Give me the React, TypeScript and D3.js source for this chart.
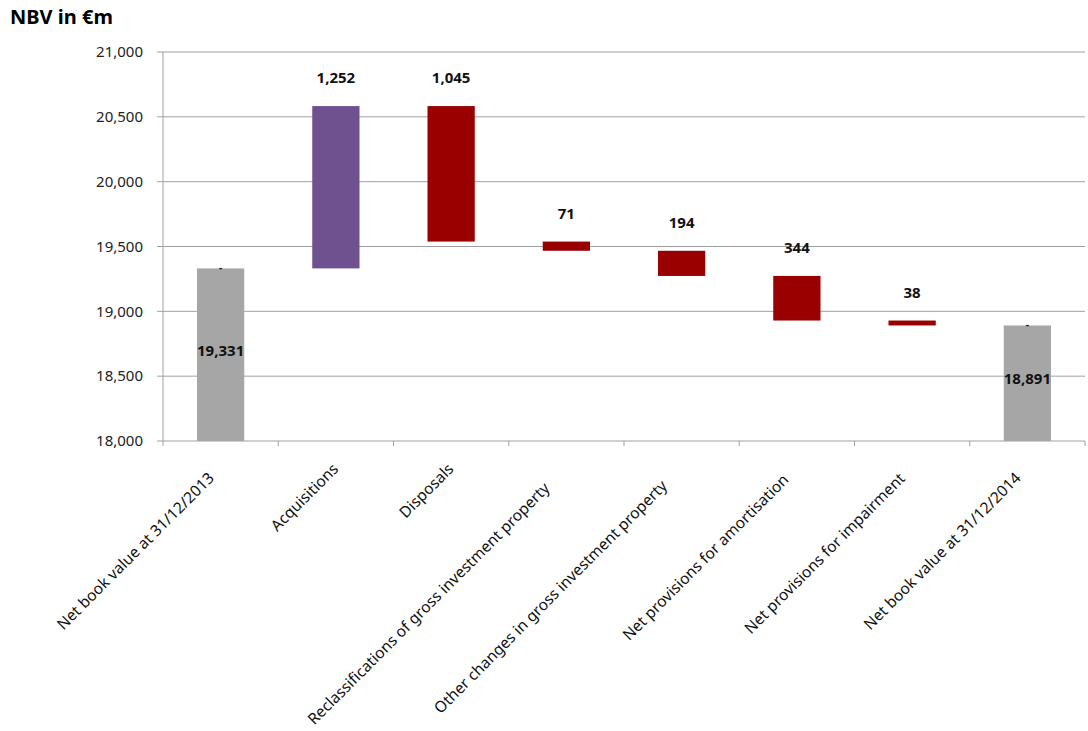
import React from "react";
import * as d3 from "d3";

const categories = [
  "Net book value at 31/12/2013",
  "Acquisitions",
  "Disposals",
  "Reclassifications of gross investment property",
  "Other changes in gross investment property",
  "Net provisions for amortisation",
  "Net provisions for impairment",
  "Net book value at 31/12/2014",
];
const kinds = ["total", "up", "down", "down", "down", "down", "down", "total"];
const values = [19331, 1252, 1045, 71, 194, 344, 38, 18891];
const yTicks = [18000, 18500, 19000, 19500, 20000, 20500, 21000];

const W = 1088;
const H = 731;
const M = { left: 163, right: 1085, top: 52, bottom: 441 };
const FONT = "'Noto Sans', 'Liberation Sans', Arial, sans-serif";
const COLORS: Record<string, string> = { total: "#A6A6A6", up: "#6F5190", down: "#990000" };

export default function App() {
  const x = d3.scaleBand<string>().domain(categories).range([M.left, M.right]).paddingInner(0).paddingOuter(0);
  const y = d3.scaleLinear().domain([18000, 21000]).range([M.bottom, M.top]);
  const bw = x.bandwidth() * 0.41;
  const fmt = d3.format(",");

  let running = 0;
  const bars = categories.map((c, i) => {
    const k = kinds[i];
    const v = values[i];
    let lo: number, hi: number;
    if (k === "total") {
      lo = 18000;
      hi = v;
      running = v;
    } else if (k === "up") {
      lo = running;
      hi = running + v;
      running = hi;
    } else {
      hi = running;
      lo = running - v;
      running = lo;
    }
    return { c, k, v, lo, hi };
  });

  return (
    <svg width={W} height={H} style={{ display: "block", position: "absolute", left: 0, top: 0 }} fontFamily={FONT}>
      <rect width={W} height={H} fill="#fff" />
      <text x={10} y={24} fontSize={20} fontWeight="bold" fill="#000">NBV in €m</text>
      {yTicks.map((t) => (
        <g key={t}>
          <line x1={M.left - 6} x2={M.right} y1={y(t)} y2={y(t)} stroke="#A0A0A0" strokeWidth={1} />
          <text x={143} y={y(t)} dy="0.35em" textAnchor="end" fontSize={15} fill="#222">{fmt(t)}</text>
        </g>
      ))}
      <line x1={M.left} x2={M.left} y1={M.top} y2={M.bottom} stroke="#A0A0A0" />
      {categories.map((c, i) => (
        <line key={"t" + i} x1={x(c)! + x.bandwidth()} x2={x(c)! + x.bandwidth()} y1={M.bottom} y2={M.bottom + 5} stroke="#A0A0A0" />
      ))}
      <line x1={M.left} x2={M.left} y1={M.bottom} y2={M.bottom + 5} stroke="#A0A0A0" />
      {bars.map((b, i) => {
        const cx = x(b.c)! + x.bandwidth() / 2;
        const y0 = y(b.hi);
        const y1 = y(b.lo);
        const shift = Math.max(0, b.c.length - 12) * 0.8 * Math.SQRT1_2;
        return (
          <g key={i}>
            <rect x={cx - bw / 2} y={y0} width={bw} height={y1 - y0} fill={COLORS[b.k]} />
            {b.k === "total" ? (
              <>
                <text x={cx} y={(y0 + y1) / 2 - 4} dy="0.35em" textAnchor="middle" fontSize={15} fontWeight="bold" fill="#111">{fmt(b.v)}</text>
                <text x={cx} y={y0 + 3} textAnchor="middle" fontSize={10} fontWeight="bold" fill="#111">-</text>
              </>
            ) : (
              <text x={cx} y={y0 - 28} dy="0.35em" textAnchor="middle" fontSize={15} fontWeight="bold" fill="#111">{fmt(b.v)}</text>
            )}
            <text
              transform={`translate(${cx + 3.5 - shift},${M.bottom + 29 + shift}) rotate(-45)`}
              textAnchor="end"
              fontSize={15.5}
              fill="#111"
            >
              {b.c}
            </text>
          </g>
        );
      })}
    </svg>
  );
}
